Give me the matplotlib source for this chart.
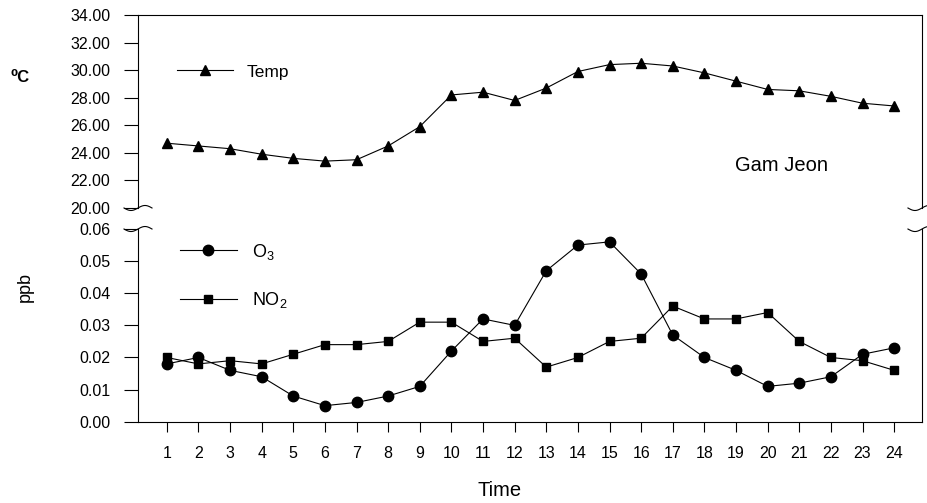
import numpy as np
import matplotlib
matplotlib.use('Agg')
from matplotlib import pyplot as plt

# hourly values
hours = list(range(1, 25))
temp = [24.7, 24.5, 24.3, 23.9, 23.6, 23.4, 23.5, 24.5, 25.9, 28.2, 28.4, 27.8,
        28.7, 29.9, 30.4, 30.5, 30.3, 29.8, 29.2, 28.6, 28.5, 28.1, 27.6, 27.4]
o3 = [0.018, 0.020, 0.016, 0.014, 0.008, 0.005, 0.006, 0.008, 0.011, 0.022, 0.032, 0.030,
      0.047, 0.055, 0.056, 0.046, 0.027, 0.020, 0.016, 0.011, 0.012, 0.014, 0.021, 0.023]
no2 = [0.020, 0.018, 0.019, 0.018, 0.021, 0.024, 0.024, 0.025, 0.031, 0.031, 0.025, 0.026,
       0.017, 0.020, 0.025, 0.026, 0.036, 0.032, 0.032, 0.034, 0.025, 0.020, 0.019, 0.016]
temp_ticks = [20, 22, 24, 26, 28, 30, 32, 34]
ppb_ticks = [0.00, 0.01, 0.02, 0.03, 0.04, 0.05, 0.06]

plt.rcParams['font.family'] = ['Liberation Sans', 'DejaVu Sans']
plt.rcParams['mathtext.fontset'] = 'custom'
plt.rcParams['mathtext.rm'] = 'Liberation Sans'
plt.rcParams['mathtext.default'] = 'rm'

W, H = 9.28, 5.03
fig = plt.figure(figsize=(W, H), dpi=100)
ax_t = fig.add_axes([0.1487, 0.5865, 0.8448, 0.3837])
ax_b = fig.add_axes([0.1487, 0.1616, 0.8448, 0.3831])

lw = 0.8
ax_t.plot(hours, temp, color='black', lw=lw, marker='^', markersize=7, label='Temp')
ax_b.plot(hours, o3, color='black', lw=lw, marker='o', markersize=7.5, label='O$_3$')
ax_b.plot(hours, no2, color='black', lw=lw, marker='s', markersize=6, label='NO$_2$')

for ax in (ax_t, ax_b):
    ax.set_xlim(0.09, 24.88)
    for sp in ax.spines.values():
        sp.set_linewidth(lw)
    ax.tick_params(axis='y', length=10, width=lw, pad=10, labelsize=11.5)
    ax.tick_params(axis='x', length=7.5, width=lw, pad=10, labelsize=11.5)

ax_t.set_ylim(20, 34)
ax_t.set_yticks(temp_ticks)
ax_t.set_yticklabels(['%.2f' % v for v in temp_ticks])
ax_t.spines['bottom'].set_visible(False)
ax_t.set_xticks([])

ax_b.set_ylim(0, 0.06)
ax_b.set_yticks(ppb_ticks)
ax_b.set_yticklabels(['%.2f' % v for v in ppb_ticks])
ax_b.spines['top'].set_visible(False)
ax_b.set_xticks(hours)

# wavy break marks where the two axes meet
t = np.linspace(-1, 1, 60)
ax_w = 0.8448 * W * 100
for ax, ypos in ((ax_t, 0.0), (ax_b, 1.0)):
    ax_h = ax.get_position().height * H * 100
    for xpos in (0.0, 1.0):
        xs = xpos + t * 14 / ax_w
        ys = ypos + 2.5 * np.sin(np.pi * t) / ax_h
        ax.plot(xs, ys, color='black', lw=lw, transform=ax.transAxes, clip_on=False)

ax_t.legend(loc='center left', bbox_to_anchor=(0.05, 0.705), frameon=False,
            handlelength=3.2, handletextpad=0.8, borderpad=0, borderaxespad=0,
            fontsize=12.5)
ax_b.legend(loc='center left', bbox_to_anchor=(0.053, 0.756), frameon=False,
            handlelength=3.2, handletextpad=0.8, borderpad=0, borderaxespad=0,
            labelspacing=1.6, fontsize=13)

ax_t.text(18.97, 23.05, 'Gam Jeon', fontsize=14.5, ha='left', va='center')
fig.text(20 / 928, 1 - 78 / 503, '⁰C', fontsize=12, fontweight='bold',
         ha='center', va='center')
fig.text(25 / 928, 1 - 287 / 503, 'ppb', fontsize=13, rotation=90,
         ha='center', va='center')
fig.text(500 / 928, 1 - 491 / 503, 'Time', fontsize=14.5, ha='center', va='center')

fig.savefig('out.png', dpi=100)
